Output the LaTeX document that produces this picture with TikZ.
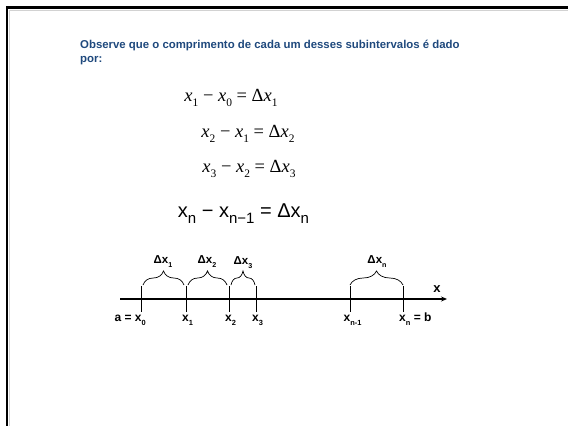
\documentclass[tikz,border=0pt]{standalone}
\usepackage{fontspec}
\usepackage{graphicx}
\newfontfamily\tnr{Liberation Serif}
\newfontfamily\arl{Liberation Sans}
\usetikzlibrary{decorations.pathreplacing,arrows.meta}
\definecolor{titleblue}{HTML}{1F497D}
\newcommand\sbx[1]{\raisebox{-0.3em}{\scalebox{0.62}{#1}}}
\newcommand\sbl[1]{\raisebox{-0.3em}{\scalebox{0.75}{#1}}}
\newcommand\sbk[1]{\raisebox{-0.35em}{\scalebox{0.62}{#1}}}
\begin{document}
\begin{tikzpicture}[x=1pt,y=-1pt,
  title/.style={inner sep=0pt,anchor=base west,text=titleblue,font=\arl\bfseries\fontsize{11.4}{13}\selectfont},
  eq/.style={inner sep=0pt,font=\tnr\fontsize{18.5}{22}\selectfont},
  eqs/.style={inner sep=0pt,font=\arl\fontsize{20}{24}\selectfont},
  lab/.style={inner sep=0pt,anchor=base,font=\arl\bfseries\fontsize{12}{14}\selectfont},
  dlab/.style={inner sep=0pt,anchor=base,font=\arl\bfseries\fontsize{11.5}{13}\selectfont},
  tick/.style={line width=0.9pt},
  brc/.style={line width=0.7pt,decorate,decoration={brace,amplitude=14pt}}]
\useasboundingbox (0,0) rectangle (568,426);
% frame
\draw[gray!35,line width=0.8pt] (9.5,426) -- (9.5,10) -- (568,10);
\draw[line width=2.6pt] (7,426) -- (7,7.5) -- (568,7.5);
% title
\node[title] (t1) at (80,48) {Observe que o comprimento de cada um desses subintervalos é dado};
\node[title] (t2) at (80,62) {por:};
% equations
\node[eq] (e1) at (231,98) {\textit{x}\sbx{1} − \textit{x}\sbx{0} = Δ\textit{x}\sbx{1}};
\node[eq] (e2) at (248,134) {\textit{x}\sbx{2} − \textit{x}\sbx{1} = Δ\textit{x}\sbx{2}};
\node[eq] (e3) at (249,169) {\textit{x}\sbx{3} − \textit{x}\sbx{2} = Δ\textit{x}\sbx{3}};
\node[eqs] (e4) at (243.5,214) {x\sbl{n} − x\sbl{n−1} = Δx\sbl{n}};
% axis
\coordinate (ax0) at (120,299);
\coordinate (ax1) at (447,299);
\draw[line width=1.4pt,-{Stealth[length=6pt,width=5pt]}] (ax0) -- (ax1);
\node[lab,font=\arl\bfseries\fontsize{13}{15}\selectfont] (xl) at (437,292) {x};
% ticks
\foreach \n/\x in {0/141,1/186,2/229,3/256,m/350,n/403}{
  \coordinate (top\n) at (\x,286);
  \coordinate (bot\n) at (\x,312);
  \draw[tick] (top\n) -- (bot\n);
}
% tick labels
\node[lab,anchor=base east] (l0) at ([xshift=5pt,yshift=-9pt]bot0) {a = x\sbk{0}};
\node[lab] (l1) at ([xshift=1.5pt,yshift=-9pt]bot1) {x\sbk{1}};
\node[lab] (l2) at ([xshift=1.5pt,yshift=-9pt]bot2) {x\sbk{2}};
\node[lab] (l3) at ([xshift=1.5pt,yshift=-9pt]bot3) {x\sbk{3}};
\node[lab] (lm) at ([xshift=2.5pt,yshift=-9pt]botm) {x\sbk{n-1}};
\node[lab,anchor=base west] (ln) at ([xshift=-4pt,yshift=-9pt]botn) {x\sbk{n} = b};
% braces
\coordinate (b0l) at (143,285); \coordinate (b0r) at (184,285);
\coordinate (b1l) at (188,285); \coordinate (b1r) at (227,285);
\coordinate (b2l) at (231,285); \coordinate (b2r) at (255,285);
\coordinate (bnl) at (350,285); \coordinate (bnr) at (403,285);
\draw[brc] (b0l) -- (b0r);
\draw[brc] (b1l) -- (b1r);
\draw[brc] (b2l) -- (b2r);
\draw[brc] (bnl) -- (bnr);
% brace labels
\node[dlab] (d1) at (163,263) {Δx\sbk{1}};
\node[dlab] (d2) at (207,263) {Δx\sbk{2}};
\node[dlab] (d3) at (243,264) {Δx\sbk{3}};
\node[dlab] (dn) at (377,263) {Δx\sbk{n}};
\end{tikzpicture}
\end{document}
